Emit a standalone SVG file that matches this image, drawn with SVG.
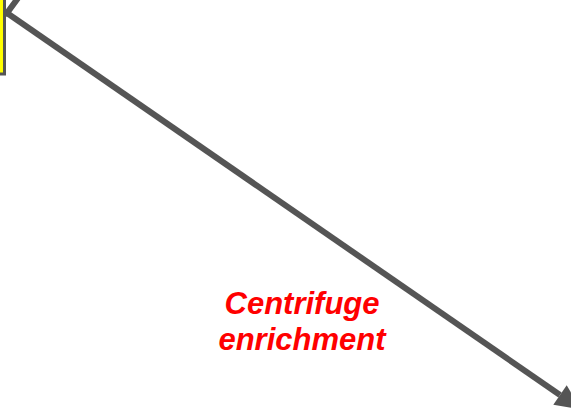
<svg xmlns="http://www.w3.org/2000/svg" width="571" height="410" viewBox="0 0 571 410">
<style>
.conn{stroke:#555555;stroke-width:6;fill:none}
.lbl{font-family:"Liberation Sans",Arial,sans-serif;font-size:31px;font-weight:bold;font-style:italic;fill:#ff0000;text-anchor:middle}
</style>
<defs>
<marker id="head" markerUnits="userSpaceOnUse" markerWidth="30" markerHeight="30" viewBox="-2 -13 28 26" refX="0" refY="0" orient="auto">
<path d="M0,-11 L24,0 L0,11 Z" fill="#555555"/>
</marker>
</defs>
<rect width="571" height="410" fill="#ffffff"/>
<g id="connectors">
<line class="conn" x1="7" y1="13" x2="560" y2="395" marker-end="url(#head)"/>
<polyline class="conn" points="21,-6 7,13 -8,20"/>
</g>
<g id="box">
<rect x="-20" y="-10" width="24.5" height="84" fill="#ffff00" stroke="#555555" stroke-width="3"/>
</g>
<g id="label">
<text class="lbl" x="302" y="314">Centrifuge</text>
<text class="lbl" x="302" y="350">enrichment</text>
</g>
</svg>
